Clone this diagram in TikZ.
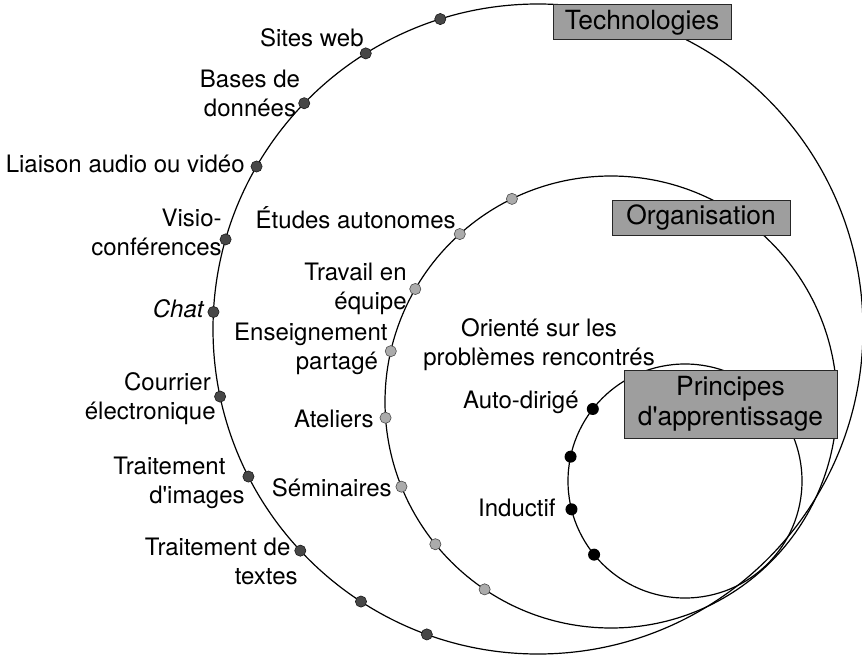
\documentclass[tikz,border=0pt]{standalone}
\usepackage{fontspec}
\setmainfont{TeX Gyre Heros}
\usetikzlibrary{calc}
\tikzset{
  etiq/.style={font=\fontsize{12}{14.5}\selectfont, inner sep=0pt},
  cadre/.style={draw=black!85, fill=black!38, line width=0.5pt, inner sep=0pt, align=center, font=\fontsize{13.2}{15}\selectfont},
  ptech/.style={circle, draw=black!90, fill=black!72, line width=0.3pt, inner sep=0pt, minimum size=5.6pt},
  porg/.style={circle, draw=black!70, fill=black!33, line width=0.3pt, inner sep=0pt, minimum size=5.6pt},
  papp/.style={circle, fill=black, inner sep=0pt, minimum size=6pt},
}

\begin{document}
\begin{tikzpicture}[x=0.5pt,y=0.5pt]
			%%%%% CERCLES %%%%%
			\useasboundingbox (0,0) rectangle (862,655);
			\coordinate (ctech) at (538,326);
			\coordinate (corg) at (611,253);
			\coordinate (capp) at (685,174);
			
			\draw[line width=0.6pt] (ctech) circle (325);
			\draw[line width=0.6pt] (corg) circle (226);
			\draw[line width=0.6pt] (capp) circle (117);
			
			\foreach \a [count=\i] in {107.5,122,136,150,164,177,192,207,223,237,250}
				\node[ptech] (tech\i) at ($(ctech)+(\a:325)$) {};
			\foreach \a [count=\i] in {116,132,150,167,184,202,219,236}
				\node[porg] (org\i) at ($(corg)+(\a:226)$) {};
			\foreach \a [count=\i] in {142,168,194,219}
				\node[papp] (app\i) at ($(capp)+(\a:117)$) {};
			
			%%%%% TECHNOLOGIES %%%%%
			\node[etiq, anchor=east] (sites) at (364,617) {Sites web};
			\node[etiq, align=center] (bases) at (250,561.5) {Bases de\\données};
			\node[etiq, anchor=east] (liaison) at (245,491) {Liaison audio ou vidéo};
			\node[etiq, anchor=east, align=right] (visio) at (222,422.5) {Visio-\\conférences};
			\node[etiq, anchor=east] (chat) at (204,346) {\itshape Chat};
			\node[etiq, anchor=east, align=right] (courrier) at (216,256) {Courrier\hspace*{0.2em}\\électronique};
			\node[etiq, anchor=east, align=right] (images) at (245,172.5) {Traitement\hspace*{0.8em}\\d\textquotesingle images};
			\node[etiq, anchor=east, align=right] (textes) at (298,94) {Traitement de\hspace*{0.3em}\\textes};
			
			%%%%% ORGANISATION %%%%%
			\node[etiq, anchor=east] (etudes) at (456,437) {Études autonomes};
			\node[etiq, anchor=east, align=right] (travail) at (407,366.5) {Travail en\\équipe};
			\node[etiq, anchor=east, align=right] (enseign) at (388,306.5) {Enseignement\\partagé\hspace*{0.4em}};
			\node[etiq, anchor=east] (ateliers) at (374,236) {Ateliers};
			\node[etiq, anchor=east] (seminaires) at (392,167.5) {Séminaires};
			
			%%%%% APPRENTISSAGE %%%%%
			\node[etiq, align=center] (oriente) at (539,310) {Orienté sur les\\problèmes rencontrés};
			\node[etiq, anchor=east] (autodir) at (579,252.5) {Auto-dirigé};
			\node[etiq, anchor=east] (inductif) at (556,147.5) {Inductif};
			
			%%%%% TITRES %%%%%
			\node[cadre, minimum width=89pt, minimum height=17.5pt] (technologies) at (642,632.5) {Technologies};
			\node[cadre, minimum width=89pt, minimum height=17.5pt] (organisation) at (701,437.5) {Organisation};
			\node[cadre, minimum width=106.5pt, minimum height=34pt] (principes) at (730.5,251) {Principes\\d\textquotesingle apprentissage};
			%%%%% FIN %%%%%
\end{tikzpicture}
\end{document}
